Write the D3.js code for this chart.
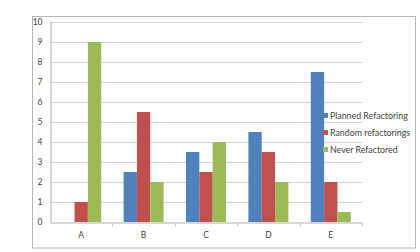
<!DOCTYPE html>
<html>
<head>
<meta charset="utf-8">
<script src="https://cdn.jsdelivr.net/npm/d3@7"></script>
<style>
  body { margin: 0; background: #fff; }
  text { font-family: Lato, "Open Sans", sans-serif; fill: #404040; }
</style>
</head>
<body>
<div id="main"></div>
<script>
var categories = ["A", "B", "C", "D", "E"];
var seriesNames = ["Planned Refactoring", "Random refactorings", "Never Refactored"];
var planned = [0, 2.5, 3.5, 4.5, 7.5];
var random = [1, 5.5, 2.5, 3.5, 2];
var never = [9, 2, 4, 2, 0.5];
var yTicks = [0, 1, 2, 3, 4, 5, 6, 7, 8, 9, 10];

var ctx = {
    w: 420,
    h: 252,
    colors: ["#4f81bd", "#c0504d", "#9bbb59"],
};

var createChart = function(svg) {
    var values = [planned, random, never];

    // outer frame
    svg.append("rect")
        .attr("x", 32.5).attr("y", 16.5)
        .attr("width", 383).attr("height", 231.5)
        .attr("fill", "#fff")
        .attr("stroke", "#b5b5b5");

    var x = d3.scaleBand().domain(categories).range([50, 362]);
    var y = d3.scaleLinear().domain([0, 10]).range([222, 22]);
    // three bars side by side, gap of about one bar width around each group
    var inner = d3.scaleBand().domain(d3.range(3))
        .range([0, x.bandwidth()]).paddingOuter(0.84);

    // gridlines
    svg.append("g").selectAll("line")
        .data(yTicks.slice(1))
        .enter().append("line")
        .attr("x1", 50).attr("x2", 362)
        .attr("y1", function(d) { return Math.round(y(d)) + 0.5; })
        .attr("y2", function(d) { return Math.round(y(d)) + 0.5; })
        .attr("stroke", "#d4d4d4");

    // bars
    var groups = svg.append("g").selectAll("g")
        .data(categories)
        .enter().append("g")
        .attr("transform", function(d) { return "translate(" + x(d) + ",0)"; });

    groups.selectAll("rect")
        .data(function(d, i) { return values.map(function(v, s) { return {s: s, v: v[i]}; }); })
        .enter().append("rect")
        .attr("x", function(d) { return inner(d.s); })
        .attr("width", inner.step())
        .attr("y", function(d) { return y(d.v); })
        .attr("height", function(d) { return y(0) - y(d.v); })
        .attr("fill", function(d) { return ctx.colors[d.s]; });

    // y axis
    var yAxis = svg.append("g")
        .attr("transform", "translate(50.5,0)")
        .call(d3.axisLeft(y).tickValues(yTicks).tickSize(0).tickPadding(8));
    yAxis.select(".domain").attr("stroke", "#b0b0b0");
    yAxis.selectAll("text").style("font-size", "8.5px").style("font-family", "Lato, sans-serif").attr("fill", "#404040");

    // x axis
    var xAxis = svg.append("g")
        .attr("transform", "translate(0," + (y(0) + 0.5) + ")")
        .call(d3.axisBottom(x).tickSize(0).tickPadding(9).tickSizeOuter(0));
    xAxis.select(".domain").attr("stroke", "#b0b0b0");
    xAxis.selectAll("text").style("font-size", "8.5px").style("font-family", "Lato, sans-serif").attr("fill", "#404040");
    xAxis.selectAll(".sep")
        .data(categories.slice(1).concat(["end"]))
        .enter().append("line")
        .attr("class", "sep")
        .attr("x1", function(d, i) { return Math.round(x(categories[i]) + x.bandwidth()) + 0.5; })
        .attr("x2", function(d, i) { return Math.round(x(categories[i]) + x.bandwidth()) + 0.5; })
        .attr("y1", 0).attr("y2", 4)
        .attr("stroke", "#c8c8c8");

    // legend
    var legend = svg.append("g").selectAll("g")
        .data(seriesNames)
        .enter().append("g")
        .attr("transform", function(d, i) { return "translate(323," + (116 + i * 17) + ")"; });
    legend.append("rect")
        .attr("x", 0).attr("y", -3)
        .attr("width", 5).attr("height", 5)
        .attr("fill", function(d, i) { return ctx.colors[i]; });
    legend.append("text")
        .attr("x", 7).attr("dy", "0.35em")
        .style("font-size", "8.8px")
        .text(function(d) { return d; });
};

var svgEl = d3.select("#main").append("svg")
    .attr("width", ctx.w)
    .attr("height", ctx.h);
createChart(svgEl);
</script>
</body>
</html>
